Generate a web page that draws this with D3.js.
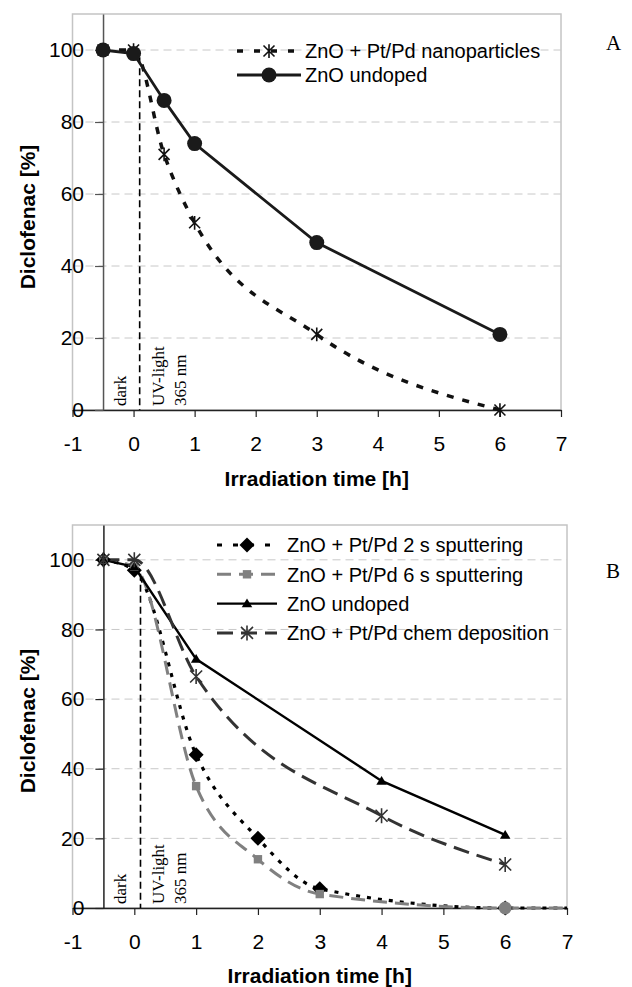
<!DOCTYPE html>
<html>
<head>
<meta charset="utf-8">
<script src="https://cdn.jsdelivr.net/npm/d3@7"></script>
<style>
  body { margin: 0; background: #fff; }
  svg { display: block; }
  text { font-family: "Liberation Sans", Arial, sans-serif; fill: #000; }
  .serif { font-family: "Liberation Serif", "Times New Roman", serif; }
</style>
</head>
<body>
<svg width="632" height="987"></svg>
<script>
// Данные графика A
const timesA = [-0.5, 0, 0.5, 1, 3, 6];
const nanoA = [100, 100, 71, 52, 21, 0];
const undopedA = [100, 99, 86, 74, 46.5, 21];

// Данные графика B
const timesSput = [-0.5, 0, 1, 2, 3, 6, 7];
const sput2B = [100, 97, 44, 20, 5.5, 0, 0];
const sput6B = [100, 98, 35, 14, 4, 0, 0];
const timesB = [-0.5, 0, 1, 4, 6];
const undopedB = [100, 98, 71.5, 36.5, 21];
const chemB = [100, 100, 66.5, 26.5, 12.5];

// Подписи и оси
const xTicks = [-1, 0, 1, 2, 3, 4, 5, 6, 7];
const yTicks = [0, 20, 40, 60, 80, 100];
const xDomain = [-1, 7];
const yDomain = [0, 110];
const yAxisAt = -0.5;
const uvStart = 0.1;

const svg = d3.select("svg");

const zip = (ts, vs) => ts.map((t, i) => ({ t, v: vs[i] }));

// Формы маркеров
function markerPath(shape, s) {
  if (shape === "star") {
    return `M${-s},${-s}L${s},${s}M${s},${-s}L${-s},${s}M0,${-s * 1.25}L0,${s * 1.25}`;
  }
  if (shape === "diamond") return `M0,${-s}L${s},0L0,${s}L${-s},0Z`;
  if (shape === "square") return `M${-s},${-s}H${s}V${s}H${-s}Z`;
  if (shape === "triangle") return `M0,${-s}L${s * 1.05},${s * 0.75}L${-s * 1.05},${s * 0.75}Z`;
  return null;
}

function drawMarker(g, shape, size, color, x, y) {
  if (shape === "circle") {
    g.append("circle").attr("cx", x).attr("cy", y).attr("r", size).attr("fill", color);
  } else if (shape === "star") {
    g.append("path").attr("d", markerPath(shape, size)).attr("transform", `translate(${x},${y})`)
      .attr("fill", "none").attr("stroke", color).attr("stroke-width", 1.6);
  } else {
    g.append("path").attr("d", markerPath(shape, size)).attr("transform", `translate(${x},${y})`)
      .attr("fill", color);
  }
}

function drawChart(cfg) {
  const x = d3.scaleLinear().domain(xDomain).range([cfg.left, cfg.right]);
  const y = d3.scaleLinear().domain(yDomain).range([cfg.bottom, cfg.top]);
  const g = svg.append("g");

  // Рамка области построения
  g.append("rect")
    .attr("x", cfg.left).attr("y", cfg.top)
    .attr("width", cfg.right - cfg.left).attr("height", cfg.bottom - cfg.top)
    .attr("fill", "none").attr("stroke", "#c4c4c4").attr("stroke-width", 1.5);

  // Сетка
  g.append("g").selectAll("line")
    .data(yTicks.filter(d => d > 0))
    .join("line")
    .attr("x1", cfg.left).attr("x2", cfg.right)
    .attr("y1", d => y(d)).attr("y2", d => y(d))
    .attr("stroke", "#c8c8c8").attr("stroke-width", 1)
    .attr("stroke-dasharray", "8,5");

  // Ось X
  const xAxis = g.append("g")
    .attr("transform", `translate(0,${y(0)})`)
    .call(d3.axisBottom(x).tickValues(xTicks).tickFormat(d => String(d))
      .tickSize(7).tickSizeOuter(0).tickPadding(19));
  xAxis.select(".domain").attr("stroke", "#222").attr("stroke-width", 1.5);
  xAxis.selectAll(".tick line").attr("stroke", "#222").attr("stroke-width", 1.2);
  xAxis.selectAll("text").attr("font-size", 21).attr("font-family", null);

  // Ось Y
  const yAxis = g.append("g")
    .attr("transform", `translate(${x(yAxisAt)},0)`)
    .call(d3.axisLeft(y).tickValues(yTicks).tickSize(8).tickSizeOuter(0).tickPadding(11));
  yAxis.select(".domain").attr("stroke", cfg.yAxisColor).attr("stroke-width", 1.5);
  yAxis.selectAll(".tick line").attr("stroke", cfg.yAxisColor).attr("stroke-width", 1.2);
  yAxis.selectAll("text").attr("font-size", 21).attr("font-family", null);

  // Линия включения УФ
  g.append("line")
    .attr("x1", x(uvStart)).attr("x2", x(uvStart))
    .attr("y1", y(cfg.uvTop)).attr("y2", y(0))
    .attr("stroke", "#000").attr("stroke-width", 1.6)
    .attr("stroke-dasharray", "7,4");

  // Подписи dark / UV-light
  const notes = [
    { text: "dark", dx: -14 },
    { text: "UV-light", dx: 24 },
    { text: "365 nm", dx: 46 }
  ];
  g.append("g").selectAll("text")
    .data(notes)
    .join("text")
    .attr("class", "serif")
    .attr("font-size", 17)
    .attr("transform", d => `translate(${x(uvStart) + d.dx},${y(0) - 4}) rotate(-90)`)
    .text(d => d.text);

  // Серии
  cfg.series.forEach(s => {
    const line = d3.line().x(d => x(d.t)).y(d => y(d.v)).curve(s.curve);
    g.append("path")
      .datum(s.data)
      .attr("d", line)
      .attr("fill", "none")
      .attr("stroke", s.color)
      .attr("stroke-width", s.width)
      .attr("stroke-dasharray", s.dash);
  });
  cfg.series.forEach(s => {
    const mg = g.append("g");
    s.data.filter(d => d.t < xDomain[1]).forEach((d, i, arr) => {
      const last = s.lastMarker && i === arr.length - 1;
      drawMarker(mg, last ? s.lastMarker : s.marker, last ? s.lastSize : s.size,
        s.markerColor || s.color, x(d.t), y(d.v));
    });
  });

  // Легенда
  const leg = g.append("g");
  cfg.series.forEach((s, i) => {
    const ly = cfg.legendY + i * cfg.legendStep;
    leg.append("line")
      .attr("x1", cfg.legendX).attr("x2", cfg.legendX + cfg.legendLen)
      .attr("y1", ly).attr("y2", ly)
      .attr("stroke", s.color).attr("stroke-width", s.width)
      .attr("stroke-dasharray", s.legendDash || s.dash);
    drawMarker(leg, s.marker, s.size, s.markerColor || s.color, cfg.legendX + cfg.legendLen / 2, ly);
    leg.append("text")
      .attr("x", cfg.legendX + cfg.textGap).attr("y", ly)
      .attr("dy", "0.36em")
      .attr("font-size", 20)
      .text(s.name);
  });

  // Названия осей
  g.append("text")
    .attr("transform", `translate(${cfg.yTitleX},${cfg.yTitleY}) rotate(-90)`)
    .attr("text-anchor", "middle").attr("dy", "0.36em")
    .attr("font-size", 21).attr("font-weight", "bold")
    .text("Diclofenac [%]");
  g.append("text")
    .attr("x", (cfg.left + cfg.right) / 2).attr("y", cfg.xTitleY)
    .attr("text-anchor", "middle")
    .attr("font-size", 21).attr("font-weight", "bold")
    .text("Irradiation time [h]");

  // Буква панели
  g.append("text")
    .attr("class", "serif")
    .attr("x", 606).attr("y", cfg.letterY)
    .attr("font-size", 21)
    .text(cfg.letter);
}

drawChart({
  left: 72.5, right: 561, top: 14, bottom: 410,
  yAxisColor: "#555", uvTop: 98,
  legendX: 237, legendY: 51, legendStep: 24, legendLen: 64, textGap: 68,
  yTitleX: 27, yTitleY: 217, xTitleY: 486,
  letter: "A", letterY: 50,
  series: [
    { name: "ZnO + Pt/Pd nanoparticles", data: zip(timesA, nanoA), color: "#111",
      width: 3.5, dash: "7,9", legendDash: "6,11", marker: "star", size: 5.5,
      curve: d3.curveMonotoneX },
    { name: "ZnO undoped", data: zip(timesA, undopedA), color: "#1a1a1a",
      width: 2.8, dash: null, marker: "circle", size: 7.5, curve: d3.curveLinear }
  ]
});

drawChart({
  left: 72.5, right: 567, top: 525, bottom: 908,
  yAxisColor: "#222", uvTop: 96,
  legendX: 217, legendY: 545, legendStep: 29.3, legendLen: 60, textGap: 70,
  yTitleX: 27, yTitleY: 721, xTitleY: 983,
  letter: "B", letterY: 578,
  series: [
    { name: "ZnO + Pt/Pd 2 s sputtering", data: zip(timesSput, sput2B), color: "#000",
      width: 3.2, dash: "4,7", legendDash: "5,11", marker: "diamond", size: 7.5,
      curve: d3.curveMonotoneX },
    { name: "ZnO + Pt/Pd 6 s sputtering", data: zip(timesSput, sput6B), color: "#808080",
      width: 3, dash: "14,8", marker: "square", size: 4.2, lastMarker: "circle", lastSize: 6.5,
      curve: d3.curveMonotoneX },
    { name: "ZnO undoped", data: zip(timesB, undopedB), color: "#000",
      width: 2.4, dash: null, marker: "triangle", size: 5, curve: d3.curveLinear },
    { name: "ZnO + Pt/Pd chem deposition", data: zip(timesB, chemB), color: "#333",
      width: 3, dash: "16,8", marker: "star", size: 6, curve: d3.curveMonotoneX }
  ]
});
</script>
</body>
</html>
